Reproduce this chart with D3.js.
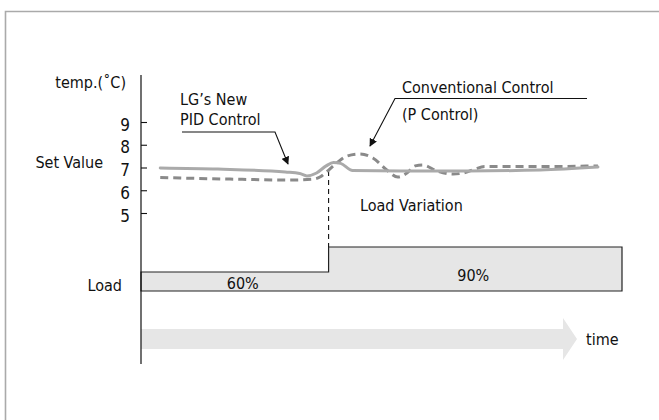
<!DOCTYPE html>
<html>
<head>
<meta charset="utf-8">
<script src="https://cdn.jsdelivr.net/npm/d3@7"></script>
<style>
  html, body { margin: 0; padding: 0; background: #fff; }
  svg { display: block; }
  text { font-family: "DejaVu Sans Condensed", "DejaVu Sans", sans-serif; font-stretch: condensed; fill: #111; }
</style>
</head>
<body>
<svg id="chart" width="659" height="420"></svg>
<script>
// ---- data ----
const yTicks = [5, 6, 7, 8, 9];
const pidTime  = [4, 16, 30, 33, 34.5, 36.5, 38.5, 40, 41.5, 44, 54, 68, 83, 95];
const pidTemp  = [6.98, 6.93, 6.80, 6.74, 6.63, 6.76, 7.07, 7.22, 7.18, 6.87, 6.85, 6.85, 6.89, 7.02];
const convTime = [4, 18.5, 31, 35.8, 37.2, 38.3, 40.7, 42.8, 45.5, 48.2, 51.1, 53.4, 55.3, 57, 58.6, 61.5, 64.9, 67.4, 69.4, 71.5, 83, 95];
const convTemp = [6.56, 6.49, 6.45, 6.49, 6.58, 6.76, 7.2, 7.5, 7.59, 7.42, 6.89, 6.58, 6.76, 7.07, 7.11, 6.85, 6.71, 6.78, 6.93, 7.04, 7.04, 7.07];
const loadStart = [0, 39];
const loadEnd   = [39, 100];
const loadValue = [60, 90];
const loadLabels = ["60%", "90%"];
const loadChangeTime = 39;

// ---- layout ----
const svg = d3.select("#chart");
const x = d3.scaleLinear().domain([0, 100]).range([141, 622]);
const y = d3.scaleLinear().domain([5, 9]).range([213, 122]);
const loadY = d3.scaleLinear().domain([60, 90]).range([272, 247]);
const loadBase = 291;
const FS = 16;

// frame
svg.append("path")
  .attr("d", "M5.5,425 V11.5 H665")
  .attr("fill", "none").attr("stroke", "#aaa").attr("stroke-width", 1.6);

// time arrow
svg.append("path")
  .attr("d", `M${x(0)},329 H563 V318 L577,339 L563,360 V349 H${x(0)} Z`)
  .attr("fill", "#e6e6e6");
svg.append("text").attr("x", 586).attr("y", 345).attr("font-size", FS).text("time");

// load step area
const loadPts = [[x(loadStart[0]), loadBase]];
loadStart.forEach((s, i) => {
  loadPts.push([x(s), loadY(loadValue[i])]);
  loadPts.push([x(loadEnd[i]), loadY(loadValue[i])]);
});
loadPts.push([x(loadEnd[loadEnd.length - 1]), loadBase]);
svg.append("path")
  .attr("d", d3.line()(loadPts) + "Z")
  .attr("fill", "#e6e6e6").attr("stroke", "#222").attr("stroke-width", 1.2);
loadLabels.forEach((lab, i) => {
  const cx = (x(loadStart[i]) + x(loadEnd[i])) / 2 + (i === 0 ? 8 : -2);
  const cy = i === 0 ? 289 : 281;
  svg.append("text").attr("x", cx).attr("y", cy).attr("text-anchor", "middle")
    .attr("font-size", FS).text(lab);
});
svg.append("text").attr("x", 122).attr("y", 291).attr("text-anchor", "end")
  .attr("font-size", FS).text("Load");

// load change marker
svg.append("line")
  .attr("x1", x(loadChangeTime)).attr("x2", x(loadChangeTime))
  .attr("y1", 171).attr("y2", loadY(loadValue[1]))
  .attr("stroke", "#111").attr("stroke-width", 1.1).attr("stroke-dasharray", "5,4");
svg.append("text").attr("x", 360).attr("y", 211).attr("font-size", FS).text("Load Variation");

// y axis
const axis = d3.axisLeft(y).tickValues(yTicks).tickFormat(d3.format("d"))
  .tickSizeInner(-6).tickSizeOuter(0).tickPadding(11);
const gAxis = svg.append("g").attr("transform", "translate(141,0)").call(axis);
gAxis.select(".domain").remove();
gAxis.selectAll(".tick line").attr("stroke", "#111").attr("stroke-width", 1.1);
gAxis.selectAll(".tick text").attr("font-size", 17).attr("fill", "#111")
  .attr("font-family", '"DejaVu Sans Condensed", "DejaVu Sans", sans-serif')
  .attr("dy", "0.48em");
svg.append("line").attr("x1", 141).attr("x2", 141).attr("y1", 75).attr("y2", 364)
  .attr("stroke", "#111").attr("stroke-width", 1.2);

svg.append("text").attr("x", 126).attr("y", 88).attr("text-anchor", "end").attr("font-size", FS).text("temp.(˚C)");
svg.append("text").attr("x", 103).attr("y", 168).attr("text-anchor", "end").attr("font-size", FS).text("Set Value");

// lines
const line = d3.line().x(d => x(d[0])).y(d => y(d[1])).curve(d3.curveMonotoneX);
svg.append("path")
  .attr("d", line(convTime.map((t, i) => [t, convTemp[i]])))
  .attr("fill", "none").attr("stroke", "#8a8a8a").attr("stroke-width", 3)
  .attr("stroke-dasharray", "8,5");
svg.append("path")
  .attr("d", line(pidTime.map((t, i) => [t, pidTemp[i]])))
  .attr("fill", "none").attr("stroke", "#aaaaaa").attr("stroke-width", 3)
  .attr("stroke-linecap", "round");

// annotations
const defs = svg.append("defs");
defs.append("marker").attr("id", "ah").attr("viewBox", "0 0 10 10")
  .attr("refX", 9).attr("refY", 5).attr("markerWidth", 8).attr("markerHeight", 8)
  .attr("orient", "auto").attr("markerUnits", "userSpaceOnUse")
  .append("path").attr("d", "M0,0 L10,5 L0,10 Z").attr("fill", "#111");

svg.append("text").attr("x", 180).attr("y", 105).attr("font-size", FS).text("LG’s New");
svg.append("text").attr("x", 180).attr("y", 125).attr("font-size", FS).text("PID Control");
svg.append("path").attr("d", "M182,132 H275 L288,164")
  .attr("fill", "none").attr("stroke", "#111").attr("stroke-width", 1.1)
  .attr("marker-end", "url(#ah)");

svg.append("text").attr("x", 402).attr("y", 93).attr("font-size", FS).text("Conventional Control");
svg.append("text").attr("x", 402).attr("y", 120).attr("font-size", FS).text("(P Control)");
svg.append("path").attr("d", "M587,98.5 H395 L370,146")
  .attr("fill", "none").attr("stroke", "#111").attr("stroke-width", 1.1)
  .attr("marker-end", "url(#ah)");
</script>
</body>
</html>
